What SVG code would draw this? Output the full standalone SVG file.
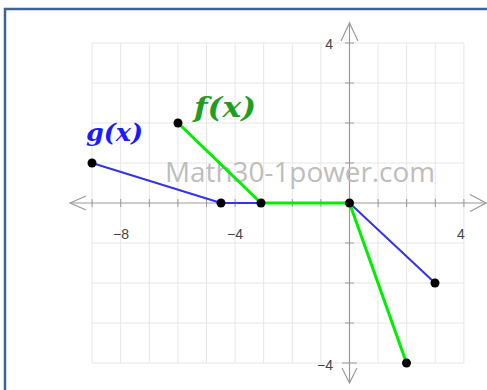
<svg xmlns="http://www.w3.org/2000/svg" width="487" height="390" viewBox="0 0 487 390">
  <style>
    .grid { stroke: #e6e6e6; stroke-width: 1; fill: none; }
    .axis { stroke: #9a9a9a; stroke-width: 1.2; fill: none; }
    .tick { stroke: #9a9a9a; stroke-width: 1; }
    .lbl { font-family: "Liberation Sans", Arial, sans-serif; font-size: 14px; fill: #444; }
    .gline { stroke: #3333ee; stroke-width: 2; fill: none; stroke-linejoin: round; }
    .fline { stroke: #00ee00; stroke-width: 3; fill: none; stroke-linejoin: round; }
    .pt { fill: #000; }
    .flab { font-family: "DejaVu Serif", "Liberation Serif", serif; font-weight: bold; font-style: italic; fill: #1f9e1f; }
    .glab { font-family: "DejaVu Serif", "Liberation Serif", serif; font-weight: bold; font-style: italic; fill: #1a1aff; }
    .wm { font-family: "Open Sans", "Liberation Sans", sans-serif; font-size: 27px; fill: #bdbdbd; }
  </style>
  <rect x="0" y="0" width="487" height="390" fill="#fff"/>
  <rect id="frame" x="5" y="9" width="500" height="400" fill="none" stroke="#41638f" stroke-width="2.5"/>
  <g id="grid">
    <path class="grid" d="M92.1 43V363 M120.7 43V363 M149.3 43V363 M177.9 43V363 M206.5 43V363 M235.1 43V363 M263.7 43V363 M292.3 43V363 M320.9 43V363 M378.1 43V363 M406.7 43V363 M435.3 43V363 M463.9 43V363"/>
    <path class="grid" d="M92 43H464 M92 83H464 M92 123H464 M92 163H464 M92 243H464 M92 283H464 M92 323H464 M92 363H464"/>
  </g>
  <g id="axes">
    <path class="axis" d="M70 203H486 M349.5 23V383"/>
    <path class="axis" d="M86 196L70 203L86 210 M470 194.5L486 203L470 211.5 M341 41L349.5 23L358 41 M342 368L349.5 383L357 368"/>
    <path class="tick" d="M92.1 199V207 M120.7 199V207 M149.3 199V207 M177.9 199V207 M206.5 199V207 M235.1 199V207 M263.7 199V207 M292.3 199V207 M320.9 199V207 M378.1 199V207 M406.7 199V207 M435.3 199V207 M463.9 199V207"/>
    <path class="tick" d="M345 43H354 M345 83H354 M345 123H354 M345 163H354 M345 243H354 M345 283H354 M345 323H354 M342 363H357"/>
    <text class="lbl" x="333" y="49" text-anchor="end">4</text>
    <text class="lbl" x="333" y="370" text-anchor="end">−4</text>
    <text class="lbl" x="121" y="239" text-anchor="middle">−8</text>
    <text class="lbl" x="235" y="239" text-anchor="middle">−4</text>
    <text class="lbl" x="461" y="239" text-anchor="middle">4</text>
  </g>
  <text class="wm" x="165" y="182" textLength="270" lengthAdjust="spacingAndGlyphs">Math30-1power.com</text>
  <g id="connectors">
    <polyline id="g-graph" class="gline" points="92,163 221,203 261,203 349.5,203 435,283"/>
    <polyline id="f-graph" class="fline" points="178,123 261,203 349.5,203 406.5,363"/>
  </g>
  <g id="points">
    <circle class="pt" cx="92" cy="163" r="4.5"/>
    <circle class="pt" cx="221" cy="203" r="4.5"/>
    <circle class="pt" cx="261" cy="203" r="4.5"/>
    <circle class="pt" cx="349.5" cy="203" r="4.5"/>
    <circle class="pt" cx="435" cy="283" r="4.5"/>
    <circle class="pt" cx="178" cy="123" r="4.5"/>
    <circle class="pt" cx="406.5" cy="363" r="4.5"/>
  </g>
  <g id="label-f">
    <text class="flab" x="194" y="117" font-size="28" textLength="62" lengthAdjust="spacingAndGlyphs">f(x)</text>
  </g>
  <g id="label-g">
    <text class="glab" x="86" y="141" font-size="24" textLength="57" lengthAdjust="spacingAndGlyphs">g(x)</text>
  </g>
</svg>
